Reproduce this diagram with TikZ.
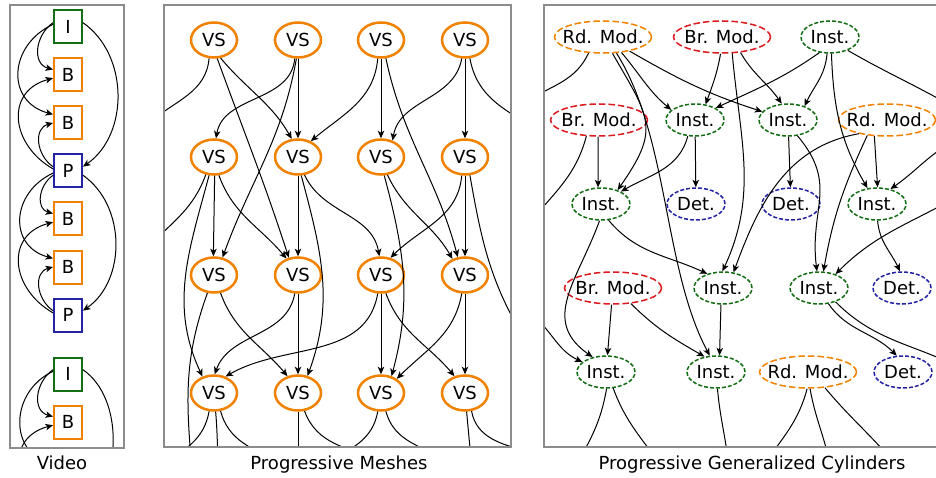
\documentclass[tikz,border=0pt]{standalone}
\usepackage{fontspec}
\setmainfont{DejaVu Sans}
\usetikzlibrary{shapes.geometric,arrows.meta}
\definecolor{cOr}{RGB}{240,130,0}
\definecolor{cGr}{RGB}{20,110,20}
\definecolor{cBl}{RGB}{35,35,165}
\definecolor{cRd}{RGB}{220,25,30}
\definecolor{cFr}{RGB}{140,140,140}
\newcommand{\nlab}[1]{\makebox[0pt]{#1}}
\begin{document}
\begin{tikzpicture}[x=1pt,y=1pt,font=\fontsize{18}{20}\selectfont,
  edge/.style={line width=1pt,-{Stealth[length=7.5pt,width=6.5pt,inset=2pt]}},
  plain/.style={line width=1pt},
  frame/.style={draw=cFr,line width=1.6pt},
  vbox/.style={draw,rectangle,line width=2pt,minimum width=28pt,minimum height=33pt,inner sep=0pt,fill=white},
  vs/.style={draw=cOr,ellipse,line width=2.5pt,minimum width=46pt,minimum height=35pt,inner sep=0pt,fill=white},
  bigell/.style={ellipse,line width=1.5pt,dash pattern=on 6.5pt off 3pt,minimum width=97pt,minimum height=32pt,inner sep=0pt,fill=white},
  smallell/.style={ellipse,line width=1.5pt,dash pattern=on 4pt off 2pt,minimum width=58pt,minimum height=32pt,inner sep=0pt,fill=white}]
\useasboundingbox (0,0) rectangle (936,-478);
\clip (0,0) rectangle (936,-478);
\fill[white] (0,0) rectangle (936,-478);

% ---------------- Video ----------------
\node[vbox,draw=cGr] (vI1) at (68,-27) {I};
\node[vbox,draw=cOr] (vB1) at (68,-75) {B};
\node[vbox,draw=cOr] (vB2) at (68,-123) {B};
\node[vbox,draw=cBl] (vP1) at (68,-171) {P};
\node[vbox,draw=cOr] (vB3) at (68,-219) {B};
\node[vbox,draw=cOr] (vB4) at (68,-267) {B};
\node[vbox,draw=cBl] (vP2) at (68,-315) {P};
\node[vbox,draw=cGr] (vI2) at (68,-374) {I};
\node[vbox,draw=cOr] (vB5) at (68,-422) {B};
\coordinate (vB6w) at (54,-464);
\coordinate (vP3w) at (54,-516);
\coordinate (vP3e) at (82,-514);
\begin{scope}
\clip (10,-5) rectangle (124,-448);
\draw[edge] (vI1.164) to[out=215,in=165,looseness=1.2] (vB1.160);
\draw[edge] (vI1.170) to[out=205,in=165,looseness=1.4] (vB2.150);
\draw[edge] (vI1.16) to[out=-35,in=35] (vP1.16);
\draw[edge] (vP1.172) to[out=150,in=195,looseness=1.4] (vB1.192);
\draw[edge] (vP1.164) to[out=145,in=195,looseness=1.2] (vB2.180);
\draw[edge] (vP1.196) to[out=215,in=165,looseness=1.2] (vB3.160);
\draw[edge] (vP1.188) to[out=205,in=165,looseness=1.4] (vB4.150);
\draw[edge] (vP1.-16) to[out=-35,in=35] (vP2.16);
\draw[edge] (vP2.172) to[out=150,in=195,looseness=1.4] (vB3.192);
\draw[edge] (vP2.164) to[out=145,in=195,looseness=1.2] (vB4.180);
\draw[edge] (vI2.164) to[out=215,in=165,looseness=1.2] (vB5.160);
\draw[edge] (vI2.170) to[out=205,in=165,looseness=1.3] (vB6w);
\draw[edge] (vI2.16) to[out=-35,in=40,looseness=0.9] (vP3e);
\draw[edge] (vP3w) to[out=150,in=195,looseness=1.4] (vB5.192);
\end{scope}
\draw[cFr,line width=1.2pt] (10,-5) rectangle (124,-448);
\node[anchor=base] (capV) at (62,-469) {Video};

% ---------------- Progressive Meshes ----------------
\foreach \r/\y in {1/40,2/157,3/275,4/393}{
  \foreach \c/\x in {1/214,2/298,3/381,4/465}{
    \node[vs] (m\r\c) at (\x,-\y) {VS};
  }
}
\coordinate (mL1) at (150,-122);
\coordinate (mR1) at (525,-122);
\coordinate (mL2) at (150,-245);
\coordinate (mR2) at (522,-335);
\coordinate (mB1) at (192,-470);
\coordinate (mX1) at (160,-465);
\coordinate (mX2) at (219,-470);
\coordinate (mX3) at (280,-462);
\coordinate (mX4) at (298,-470);
\coordinate (mX5) at (380,-460);
\coordinate (mX6) at (325,-462);
\coordinate (mX7) at (450,-462);
\coordinate (mX8) at (472,-470);
\coordinate (mX9) at (530,-452);
\begin{scope}
\clip (164,-5) rectangle (511,-447);
% row 1
\draw[plain] (m11.-105) to[out=-95,in=40] (mL1);
\draw[edge] (m11.-80) to[out=-70,in=108] (m32.118);
\draw[edge] (m11.-70) to[out=-50,in=120] (m22.109);
\draw[edge] (m12.-100) to[out=-95,in=80] (m21.84);
\draw[edge] (m12.-95) to[out=-100,in=70] (m31.64);
\draw[edge] (m12) -- (m22);
\draw[edge] (m13.-100) to[out=-95,in=40] (m22.51);
\draw[edge] (m13) -- (m23);
\draw[edge] (m13.-75) to[out=-78,in=105] (m34.112);
\draw[edge] (m14.-100) to[out=-100,in=80] (m23.55);
\draw[edge] (m14) -- (m24);
\draw[plain] (m14.-75) to[out=-80,in=150] (mR1);
% row 2
\draw[plain] (m21.-115) to[out=-110,in=45] (mL2);
\draw[edge] (m21.-105) to[out=-105,in=115] (m41.125);
\draw[edge] (m21.-88) -- (m31.92);
\draw[edge] (m21.-75) to[out=-70,in=130] (m32.125);
\draw[edge] (m22) -- (m32);
\draw[edge] (m22.-80) to[out=-75,in=70] (m42.61);
\draw[edge] (m22.-70) to[out=-65,in=100] (m33.95);
\draw[edge] (m23.-80) to[out=-75,in=75] (m43.58);
\draw[edge] (m23.-70) to[out=-65,in=120] (m34.128);
\draw[edge] (m24.-100) to[out=-95,in=45] (m33.61);
\draw[edge] (m24) -- (m34);
\draw[plain] (m24.-75) to[out=-80,in=120] (mR2);
% row 3
\draw[plain] (m31.-110) to[out=-110,in=95] (mB1);
\draw[edge] (m31.-70) to[out=-70,in=130] (m42.122);
\draw[edge] (m32.-100) to[out=-100,in=70] (m41.88);
\draw[edge] (m32) -- (m42);
\draw[edge] (m33.-100) to[out=-100,in=30] (m41.55);
\draw[edge] (m33) -- (m43);
\draw[edge] (m33.-75) to[out=-70,in=130] (m44.122);
\draw[edge] (m34.-100) to[out=-100,in=45] (m43.42);
\draw[edge] (m34) -- (m44);
% row 4
\draw[plain] (m41.-105) to[out=-100,in=30] (mX1);
\draw[plain] (m41.-85) to[out=-85,in=95] (mX2);
\draw[plain] (m41.-70) to[out=-75,in=155] (mX3);
\draw[plain] (m42) -- (mX4);
\draw[plain] (m42.-70) to[out=-70,in=160] (mX5);
\draw[plain] (m43.-100) to[out=-100,in=25] (mX6);
\draw[plain] (m43.-75) to[out=-75,in=150] (mX7);
\draw[plain] (m44.-85) to[out=-85,in=95] (mX8);
\draw[plain] (m44.-70) to[out=-80,in=165] (mX9);
\end{scope}
\draw[frame] (164,-5) rectangle (511,-447);
\node[anchor=base] (capM) at (339,-469) {Progressive Meshes};

% ---------------- Progressive Generalized Cylinders ----------------
\node[bigell,draw=cOr] (pA) at (603,-37) {\nlab{Rd. Mod.}};
\node[bigell,draw=cRd] (pB) at (722,-37) {\nlab{Br. Mod.}};
\node[smallell,draw=cGr] (pC) at (830,-37) {\nlab{Inst.}};
\node[bigell,draw=cRd] (pD) at (599,-120) {\nlab{Br. Mod.}};
\node[smallell,draw=cGr] (pE) at (695,-120) {\nlab{Inst.}};
\node[smallell,draw=cGr] (pF) at (788,-120) {\nlab{Inst.}};
\node[bigell,draw=cOr] (pG) at (887,-120) {\nlab{Rd. Mod.}};
\node[smallell,draw=cGr] (pH) at (601,-204) {\nlab{Inst.}};
\node[smallell,draw=cBl] (pI) at (696,-204) {\nlab{Det.}};
\node[smallell,draw=cBl] (pJ) at (791,-204) {\nlab{Det.}};
\node[smallell,draw=cGr] (pK) at (877,-204) {\nlab{Inst.}};
\node[bigell,draw=cRd] (pL) at (613,-288) {\nlab{Br. Mod.}};
\node[smallell,draw=cGr] (pM) at (723,-288) {\nlab{Inst.}};
\node[smallell,draw=cGr] (pN) at (819,-288) {\nlab{Inst.}};
\node[smallell,draw=cBl] (pO) at (902,-288) {\nlab{Det.}};
\node[smallell,draw=cGr] (pP) at (606,-372) {\nlab{Inst.}};
\node[smallell,draw=cGr] (pQ) at (716,-372) {\nlab{Inst.}};
\node[bigell,draw=cOr] (pR) at (808,-372) {\nlab{Rd. Mod.}};
\node[smallell,draw=cBl] (pS) at (903,-372) {\nlab{Det.}};
\coordinate (gL1) at (528,-100);
\coordinate (gL2) at (530,-222);
\coordinate (gL3) at (528,-312);
\coordinate (gR1) at (955,-108);
\coordinate (gR2) at (955,-140);
\coordinate (gR3) at (960,-195);
\coordinate (gR4) at (955,-365);
\coordinate (gB1) at (575,-467);
\coordinate (gB2) at (662,-467);
\coordinate (gB3) at (729,-470);
\coordinate (gB4) at (762,-467);
\coordinate (gB5) at (831,-470);
\coordinate (gB6) at (897,-466);
\begin{scope}
\clip (544,-5) rectangle (950,-447);
\draw[plain] (pA.-132) to[out=-115,in=30] (gL1);
\draw[edge] (pA.-60) to[out=-60,in=55,looseness=1.4] (pH.40);
\draw[edge] (pA.-50) to[out=-58,in=118,looseness=0.8] (pQ.111);
\draw[edge] (pA.-40) to[out=-50,in=140] (pE.157);
\draw[edge] (pA.-28) to[out=-30,in=162] (pF.162);
\draw[edge] (pB.-95) to[out=-100,in=70] (pE.56);
\draw[edge] (pB.-58) to[out=-85,in=65] (pM.92);
\draw[edge] (pB.-40) to[out=-60,in=125] (pF.111);
\draw[edge] (pC.-124) to[out=-145,in=25] (pE.30);
\draw[edge] (pC.-100) to[out=-95,in=65] (pF.40);
\draw[edge] (pC.-85) to[out=-88,in=120] (pK.121);
\draw[plain] (pC.-37) to[out=-30,in=150] (gR1);
\draw[plain] (pD.-128) to[out=-105,in=50] (gL2);
\draw[edge] (pD.-93) -- (pH.100);
\draw[edge] (pE.-114) to[out=-105,in=30] (pH.32);
\draw[edge] (pE) -- (pI);
\draw[edge] (pF) -- (pJ);
\draw[edge] (pF.-59) to[out=-50,in=97,looseness=1.2] (pN.97);
\draw[edge] (pG.-154) to[out=-170,in=70] (pM.56);
\draw[edge] (pG.-142) to[out=-115,in=80] (pN.75);
\draw[edge] (pG.-128) -- (pK.88);
\draw[edge] (gR2) to[out=-150,in=35] (pK.48);
\draw[edge] (gR3) to[out=-150,in=45] (pN.40);
\draw[edge] (pH.-95) to[out=-110,in=145,looseness=1.2] (pP.132);
\draw[edge] (pH.-65) to[out=-50,in=155] (pM.138);
\draw[edge] (gL3) to[out=-35,in=155] (pP.157);
\draw[edge] (pL.-95) -- (pP.85);
\draw[edge] (pL.-41) to[out=-45,in=150] (pQ.127);
\draw[edge] (pM.-97) -- (pQ.78);
\draw[edge] (pN.-59) to[out=-55,in=135] (pS.111);
\draw[plain] (pN.-40) to[out=-45,in=155] (gR4);
\draw[edge] (pK.-88) to[out=-85,in=115] (pO.97);
\draw[plain] (pP.-88) to[out=-100,in=60] (gB1);
\draw[plain] (pP.-66) to[out=-70,in=125] (gB2);
\draw[plain] (pQ.-85) to[out=-85,in=95] (gB3);
\draw[plain] (pR.-93) to[out=-105,in=55] (gB4);
\draw[plain] (pR.-83) to[out=-80,in=100] (gB5);
\draw[plain] (pR.-43) to[out=-50,in=130] (gB6);
\end{scope}
\draw[frame] (544,-5) rectangle (950,-447);
\node[anchor=base] (capG) at (752,-469) {Progressive Generalized Cylinders};
\end{tikzpicture}
\end{document}
